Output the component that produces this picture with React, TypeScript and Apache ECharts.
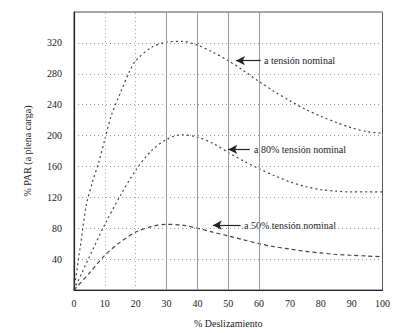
import React, { useEffect, useRef } from "react";
import * as echarts from "echarts";

const xValues = [0, 2, 4, 6, 8, 10, 12, 15, 18, 20, 25, 30, 35, 40, 45, 50, 55, 60, 65, 70, 75, 80, 85, 90, 95, 100];
const fullVoltage = [0, 55, 110, 140, 165, 195, 225, 255, 283, 297, 314, 321, 322, 317, 308, 297, 284, 270, 257, 245, 234, 225, 217, 210, 205, 203];
const xValues80 = [0, 5, 10, 15, 20, 25, 30, 35, 40, 45, 50, 55, 60, 65, 70, 75, 80, 85, 90, 95, 100];
const voltage80 = [0, 43, 85, 122, 155, 180, 195, 201, 198, 190, 178, 167, 157, 148, 140, 134, 130, 128, 127, 127, 127];
const voltage50 = [0, 22, 45, 62, 75, 82, 85, 84, 80, 75, 70, 65, 60, 56, 53, 50, 48, 46, 45, 44, 43];

const labels = ["a tensión nominal", "a 80% tensión nominal", "a 50% tensión nominal"];
const arrows = [
  { from: [60.5, 297], to: [52.5, 297] },
  { from: [57, 182], to: [50, 182] },
  { from: [54, 84], to: [45, 84] },
];
const solidGridX = [30, 40, 50, 60];
const dottedGridX = [10, 20];

const FONT = "'Liberation Serif', 'DejaVu Serif', serif";

export default function App() {
  const ref = useRef<HTMLDivElement>(null);
  useEffect(() => {
    if (!ref.current) return;
    const chart = echarts.init(ref.current, null, { renderer: "svg" });
    const lineStyle = { color: "#444", width: 1.2, type: [2, 3] as any };
    const mk = (i: number) => ({
      silent: true,
      symbol: ["none", "arrow"],
      symbolSize: [7, 9],
      lineStyle: { color: "#222", width: 1.2, type: "solid" },
      label: { show: false },
      data: [[{ coord: arrows[i].from }, { coord: arrows[i].to }]],
    });
    chart.setOption({
      animation: false,
      backgroundColor: "#fff",
      grid: { left: 74, top: 12, width: 310, height: 280, show: true, borderColor: "#555", borderWidth: 1 },
      xAxis: {
        type: "value",
        min: 0,
        max: 100,
        interval: 10,
        name: "% Deslizamiento",
        nameLocation: "middle",
        nameGap: 28,
        nameTextStyle: { fontFamily: FONT, fontSize: 10, color: "#222" },
        axisLine: { lineStyle: { color: "#222", width: 1.2 } },
        axisTick: { show: false },
        axisLabel: { fontFamily: FONT, fontSize: 10, color: "#222", margin: 8 },
        splitLine: { show: false },
      },
      yAxis: {
        type: "value",
        min: 0,
        max: 360,
        interval: 40,
        name: "% PAR (a plena carga)",
        nameLocation: "middle",
        nameGap: 42,
        nameRotate: 90,
        nameTextStyle: { fontFamily: FONT, fontSize: 10, color: "#222" },
        axisLine: { show: true, lineStyle: { color: "#222", width: 1.2 } },
        axisTick: { show: false },
        axisLabel: {
          fontFamily: FONT,
          fontSize: 10,
          color: "#222",
          margin: 12,
          formatter: (v: number) => (v === 0 || v === 360 ? "" : String(v)),
        },
        splitLine: { show: true, lineStyle: { color: "#999", type: [1, 3], width: 1 } },
      },
      series: [
        {
          type: "line",
          data: xValues.map((x, i) => [x, fullVoltage[i]]),
          smooth: 0.3,
          showSymbol: false,
          lineStyle,
          markLine: {
            silent: true,
            symbol: "none",
            label: { show: false },
            lineStyle: { color: "#999", width: 1, type: "solid" },
            data: solidGridX.map((v) => ({ xAxis: v })),
          },
        },
        {
          type: "line",
          data: xValues80.map((x, i) => [x, voltage80[i]]),
          smooth: 0.3,
          showSymbol: false,
          lineStyle,
          markLine: mk(1),
        },
        {
          type: "line",
          data: xValues80.map((x, i) => [x, voltage50[i]]),
          smooth: 0.3,
          showSymbol: false,
          lineStyle: { ...lineStyle, type: [4, 3] },
          markLine: mk(2),
        },
        {
          type: "line",
          data: [],
          markLine: mk(0),
        },
        {
          type: "line",
          data: [],
          markLine: {
            silent: true,
            symbol: "none",
            label: { show: false },
            lineStyle: { color: "#aaa", width: 1, type: [1, 3] },
            data: dottedGridX.map((v) => ({ xAxis: v })),
          },
        },
      ],
      graphic: [
        { type: "text", left: 264, top: 55, style: { text: labels[0], font: `10px ${FONT}`, fill: "#222" } },
        { type: "text", left: 254, top: 144, style: { text: labels[1], font: `10px ${FONT}`, fill: "#222" } },
        { type: "text", left: 244, top: 220, style: { text: labels[2], font: `10px ${FONT}`, fill: "#222" } },
      ],
    });
    return () => chart.dispose();
  }, []);
  return <div ref={ref} style={{ width: 393, height: 333, position: "absolute", left: 0, top: 0 }} />;
}
